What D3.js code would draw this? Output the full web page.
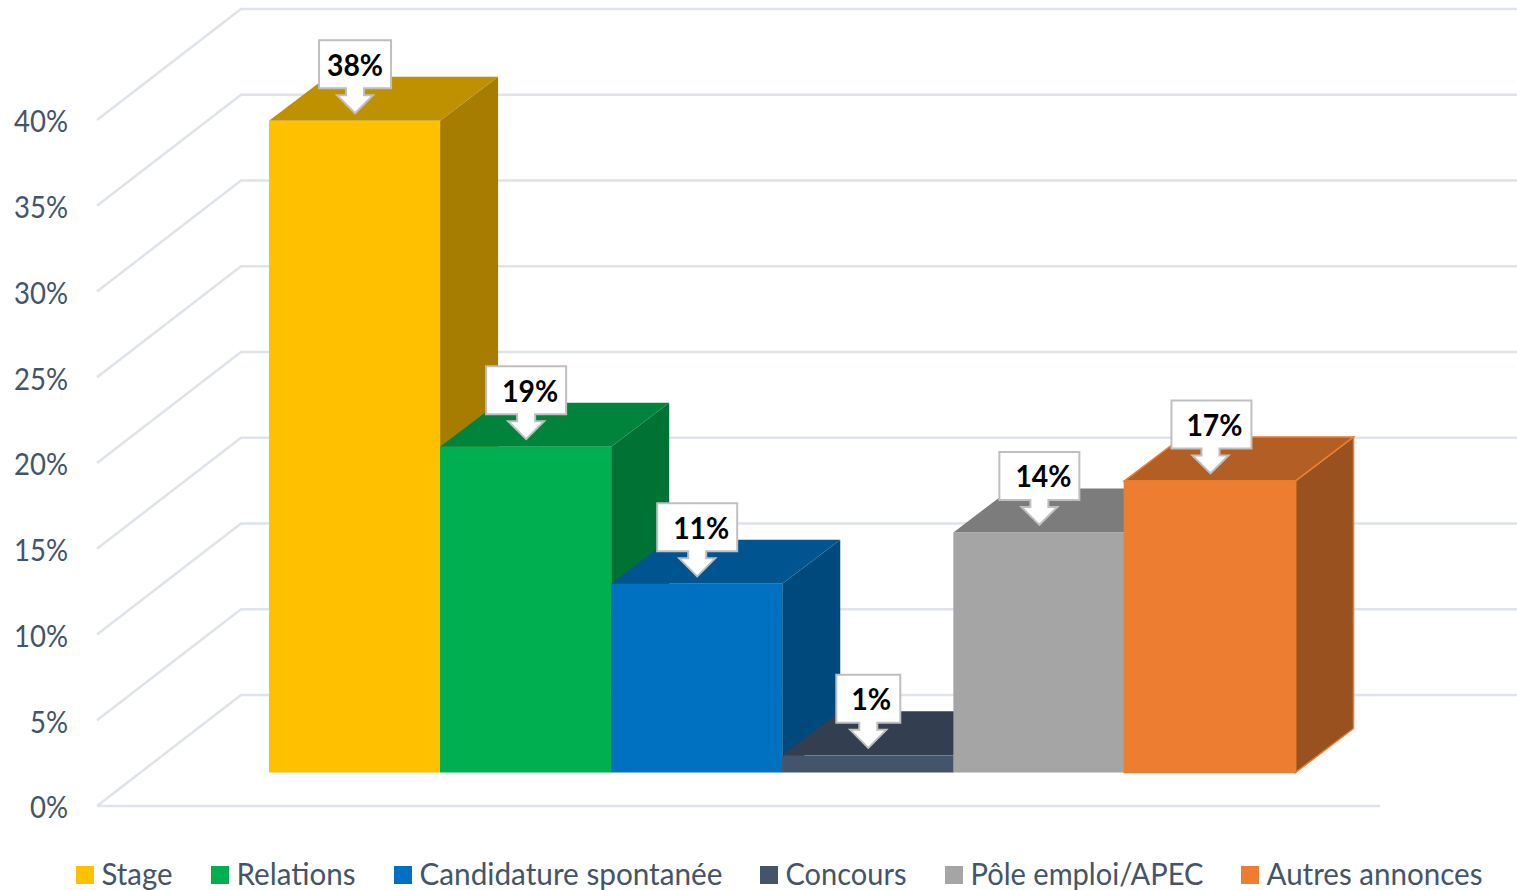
<!DOCTYPE html>
<html>
<head>
<meta charset="utf-8">
<script src="https://cdn.jsdelivr.net/npm/d3@7"></script>
<style>
  html, body { margin: 0; padding: 0; background: #fff; overflow: hidden; }
  svg { display: block; font-family: Lato, "Open Sans", sans-serif; }
</style>
</head>
<body>
<div id="chart"></div>
<script>
// data
const categories = ["Stage", "Relations", "Candidature spontanée", "Concours", "Pôle emploi/APEC", "Autres annonces"];
const values = [38, 19, 11, 1, 14, 17];
const tickValues = [0, 5, 10, 15, 20, 25, 30, 35, 40];
const colors = ["#FFC000", "#00B050", "#0070C0", "#44546A", "#A5A5A5", "#ED7D31"];

// layout measured on the picture
const calloutWidth = [72, 80, 80, 64, 80, 80];
const calloutShift = [0, 0, 0, 0, 0, 1];
const labelShift = [0, 4, 4, 3, 4, 4];
const legendX = [76, 211, 394, 760, 945, 1241];
const legendTextWidth = [71, 119, 303, 121, 233, 216];

const width = 1517, height = 890;
const wallDx = 144, wallDy = -111;   // floor depth
const barDx = 58, barDy = -44;       // bar depth
const baseGap = 33.5;                // bars stand this far behind the front edge

const svg = d3.select("#chart").append("svg")
  .attr("width", width)
  .attr("height", height)
  .attr("viewBox", [0, 0, width, height]);

const y = d3.scaleLinear().domain([0, 40]).range([806, 120]);
const x = d3.scaleBand().domain(categories).range([269, 1295.5]).padding(0);
const fill = d3.scaleOrdinal().domain(categories).range(colors);

const shade = (c, k) => {
  const r = d3.rgb(c);
  return d3.rgb(r.r * k, r.g * k, r.b * k).formatHex();
};

// walls
const grid = svg.append("g")
  .attr("fill", "none")
  .attr("stroke", "#DFE3EA")
  .attr("stroke-width", 2.5);

grid.selectAll("path")
  .data(tickValues)
  .join("path")
  .attr("d", d => {
    const p = d3.path();
    p.moveTo(97, y(d));
    p.lineTo(97 + wallDx, y(d) + wallDy);
    p.lineTo(width, y(d) + wallDy);
    return p.toString();
  });

grid.append("line")
  .attr("x1", 97).attr("x2", 1380)
  .attr("y1", y(0)).attr("y2", y(0));

// y axis
const axis = svg.append("g")
  .attr("transform", "translate(68,2)")
  .call(d3.axisLeft(y).tickValues(tickValues).tickSize(0).tickPadding(0).tickFormat(d => d + "%"));
axis.select(".domain").remove();
axis.selectAll("text")
  .attr("font-family", "Lato, sans-serif")
  .attr("font-size", 31)
  .attr("fill", "#44546A")
  .attr("textLength", d => d < 10 ? 38 : 54)
  .attr("lengthAdjust", "spacingAndGlyphs");

// bars, left to right so each one overlaps the side of the one before
const bar = svg.append("g").selectAll("g")
  .data(categories.map((name, i) => ({ name, value: values[i], i })))
  .join("g")
  .each(function (d) {
    const g = d3.select(this);
    const x0 = x(d.name), x1 = x0 + x.bandwidth();
    const top = y(d.value) - baseGap, base = y(0) - baseGap;
    const c = fill(d.name);
    const edge = d.i === 5 ? c : "none";

    g.append("polygon") // side
      .attr("points", [[x1, top], [x1 + barDx, top + barDy], [x1 + barDx, base + barDy], [x1, base]].join(" "))
      .attr("fill", shade(c, 0.65)).attr("stroke", edge).attr("stroke-width", 1.5);
    g.append("polygon") // top
      .attr("points", [[x0, top], [x0 + barDx, top + barDy], [x1 + barDx, top + barDy], [x1, top]].join(" "))
      .attr("fill", shade(c, 0.75)).attr("stroke", edge).attr("stroke-width", 1.5);
    g.append("rect") // front
      .attr("x", x0).attr("y", top)
      .attr("width", x.bandwidth()).attr("height", base - top)
      .attr("fill", c).attr("stroke", edge).attr("stroke-width", 1.5);
  });

// callouts go on top of every bar
const callout = svg.append("g").selectAll("g")
  .data(categories.map((name, i) => ({ name, value: values[i], i })))
  .join("g")
  .attr("transform", d => `translate(${x(d.name) + x.bandwidth() / 2 + 0.5},${y(d.value) - baseGap - 7.5})`);

callout.append("path")
  .attr("d", d => {
    const w = calloutWidth[d.i] / 2, s = calloutShift[d.i];
    return `M${-w + s},-73H${w + s}V-25H9V-18H18L0,0L-18,-18H-9V-25H${-w + s}Z`;
  })
  .attr("fill", "#fff")
  .attr("stroke", "#BFBFBF")
  .attr("stroke-width", 2);

callout.append("text")
  .attr("x", d => labelShift[d.i])
  .attr("y", -37.5)
  .attr("text-anchor", "middle")
  .attr("font-size", 30)
  .attr("font-weight", 700)
  .attr("fill", "#000")
  .attr("textLength", d => d.value < 10 ? 40 : 56)
  .attr("lengthAdjust", "spacingAndGlyphs")
  .text(d => d.value + "%");

// legend
const legend = svg.append("g").selectAll("g")
  .data(categories)
  .join("g")
  .attr("transform", (d, i) => `translate(${legendX[i]},866)`);

legend.append("rect")
  .attr("width", 18).attr("height", 18)
  .attr("fill", d => fill(d));

legend.append("text")
  .attr("x", 25.5).attr("y", 19)
  .attr("font-size", 30.5)
  .attr("fill", "#44546A")
  .attr("textLength", (d, i) => legendTextWidth[i])
  .attr("lengthAdjust", "spacingAndGlyphs")
  .text(d => d);
</script>
</body>
</html>
